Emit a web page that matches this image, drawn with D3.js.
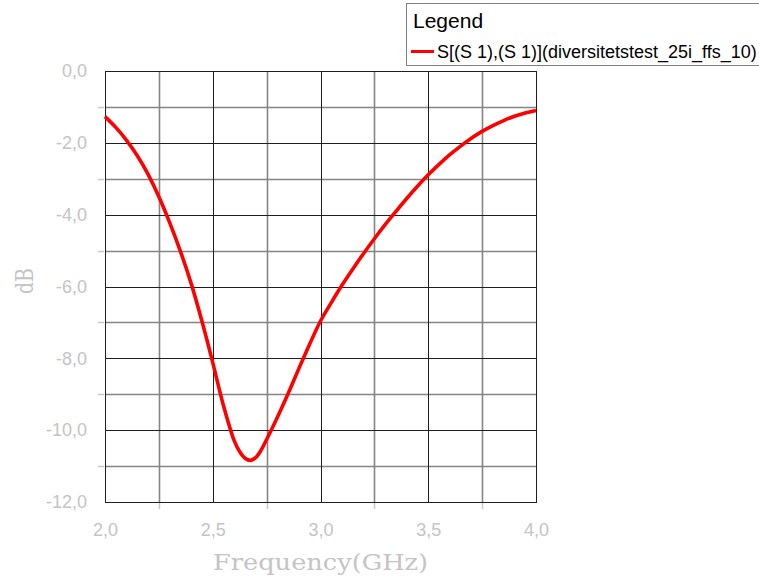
<!DOCTYPE html>
<html>
<head>
<meta charset="utf-8">
<script src="https://cdn.jsdelivr.net/npm/d3@7/dist/d3.min.js"></script>
<style>
  html, body { margin: 0; padding: 0; background: #fff; }
  svg { display: block; }
</style>
</head>
<body>
<svg id="chart" width="759" height="583"></svg>
<script>
// S11 sweep, 2–4 GHz
const freqGHz = [2.00, 2.05, 2.10, 2.15, 2.20, 2.25, 2.30, 2.35, 2.40, 2.45, 2.50, 2.55,
                 2.60, 2.625, 2.65, 2.675, 2.70, 2.725, 2.75, 2.80, 2.85, 2.90, 2.95, 3.00,
                 3.05, 3.10, 3.15, 3.20, 3.25, 3.30, 3.35, 3.40, 3.45, 3.50, 3.55, 3.60,
                 3.65, 3.70, 3.75, 3.80, 3.85, 3.90, 3.95, 4.00];
const s11dB   = [-1.27, -1.57, -1.93, -2.36, -2.88, -3.50, -4.22, -5.02, -5.92, -6.97, -8.12, -9.32,
                 -10.30, -10.60, -10.78, -10.84, -10.76, -10.55, -10.26, -9.64, -8.98, -8.28, -7.60, -6.96,
                 -6.45, -5.96, -5.51, -5.08, -4.67, -4.28, -3.91, -3.55, -3.21, -2.89, -2.60, -2.33,
                 -2.09, -1.87, -1.68, -1.52, -1.38, -1.26, -1.17, -1.10];

const xMajorTicks = [2.0, 2.5, 3.0, 3.5, 4.0];
const xMinorTicks = [2.25, 2.75, 3.25, 3.75];
const yMajorTicks = [0, -2, -4, -6, -8, -10, -12];
const yMinorTicks = [-1, -3, -5, -7, -9, -11];

const seriesName = "S[(S 1),(S 1)](diversitetstest_25i_ffs_10)";
const legendTitle = "Legend";
const xTitle = "Frequency(GHz)";
const yTitle = "dB";

const svg = d3.select("#chart");
const plot = { left: 105, right: 536, top: 71, bottom: 502 };

const x = d3.scaleLinear().domain([2, 4]).range([plot.left, plot.right]);
const y = d3.scaleLinear().domain([-12, 0]).range([plot.bottom, plot.top]);

const loc = d3.formatLocale({ decimal: ",", thousands: ".", grouping: [3], currency: ["", ""], minus: "-" });
const fmt = loc.format(".1f");

const labelColor = "#c4c4c4";
const titleColor = "#c4c4c4";
const gridDark = "#1e1e1e";
const gridLight = "#858585";

// minor grid (grey)
const g = svg.append("g");
g.selectAll("line.vmin").data(xMinorTicks).join("line")
  .attr("x1", d => Math.round(x(d)) + 0.5).attr("x2", d => Math.round(x(d)) + 0.5)
  .attr("y1", plot.top).attr("y2", plot.bottom)
  .attr("stroke", gridLight).attr("stroke-width", 1.6);
g.selectAll("line.hmin").data(yMinorTicks).join("line")
  .attr("y1", d => Math.round(y(d)) + 0.5).attr("y2", d => Math.round(y(d)) + 0.5)
  .attr("x1", plot.left).attr("x2", plot.right)
  .attr("stroke", gridLight).attr("stroke-width", 1.6);
// outside stubs of the minor ticks
g.selectAll("line.vt").data(xMinorTicks).join("line")
  .attr("x1", d => Math.round(x(d)) + 0.5).attr("x2", d => Math.round(x(d)) + 0.5)
  .attr("y1", plot.bottom + 1).attr("y2", plot.bottom + 7)
  .attr("stroke", "#c8c8c8").attr("stroke-width", 1.5);
g.selectAll("line.ht").data(yMinorTicks).join("line")
  .attr("y1", d => Math.round(y(d)) + 0.5).attr("y2", d => Math.round(y(d)) + 0.5)
  .attr("x1", plot.left - 7).attr("x2", plot.left - 1)
  .attr("stroke", "#c8c8c8").attr("stroke-width", 1.5);

// major grid (dark)
g.selectAll("line.vmaj").data(xMajorTicks).join("line")
  .attr("x1", d => Math.round(x(d)) + 0.5).attr("x2", d => Math.round(x(d)) + 0.5)
  .attr("y1", plot.top).attr("y2", plot.bottom)
  .attr("stroke", gridDark).attr("stroke-width", 1);
g.selectAll("line.hmaj").data(yMajorTicks).join("line")
  .attr("y1", d => Math.round(y(d)) + 0.5).attr("y2", d => Math.round(y(d)) + 0.5)
  .attr("x1", plot.left).attr("x2", plot.right)
  .attr("stroke", gridDark).attr("stroke-width", 1);

// plot frame
svg.append("rect")
  .attr("x", plot.left + 0.5).attr("y", plot.top + 0.5)
  .attr("width", plot.right - plot.left).attr("height", plot.bottom - plot.top)
  .attr("fill", "none").attr("stroke", gridDark).attr("stroke-width", 1);

// tick labels
const xAxis = d3.axisBottom(x).tickValues(xMajorTicks).tickFormat(fmt).tickSize(0).tickPadding(0);
const xa = svg.append("g").attr("transform", `translate(0,${plot.bottom + 21})`).call(xAxis);
const yAxis = d3.axisLeft(y).tickValues(yMajorTicks).tickFormat(fmt).tickSize(0).tickPadding(0);
const ya = svg.append("g").attr("transform", `translate(${plot.left - 18},0)`).call(yAxis);
[xa, ya].forEach(a => {
  a.select(".domain").remove();
  a.selectAll("text")
    .attr("fill", labelColor)
    .style("font-family", "Arial, 'Liberation Sans', sans-serif")
    .style("font-size", "18px");
});

// S11 curve
const line = d3.line()
  .x((d, i) => x(freqGHz[i]))
  .y(d => y(d))
  .curve(d3.curveCatmullRom.alpha(0.5));
svg.append("path")
  .datum(s11dB)
  .attr("d", line)
  .attr("fill", "none")
  .attr("stroke", "#ff0000")
  .attr("stroke-width", 3.6)
  .attr("stroke-linejoin", "round");

// axis titles
svg.append("text")
  .attr("x", (plot.left + plot.right) / 2).attr("y", 570)
  .attr("text-anchor", "middle")
  .attr("fill", titleColor)
  .attr("textLength", 215).attr("lengthAdjust", "spacingAndGlyphs")
  .style("font-family", "'DejaVu Serif', 'Liberation Serif', serif")
  .style("font-size", "23px")
  .text(xTitle);
svg.append("text")
  .attr("transform", `translate(33,281) rotate(-90)`)
  .attr("text-anchor", "middle")
  .attr("fill", titleColor)
  .attr("textLength", 26).attr("lengthAdjust", "spacingAndGlyphs")
  .style("font-family", "'DejaVu Serif', 'Liberation Serif', serif")
  .style("font-size", "25px")
  .text(yTitle);

// legend
const lg = svg.append("g");
lg.append("rect")
  .attr("x", 406.5).attr("y", 3.5).attr("width", 400).attr("height", 62)
  .attr("fill", "#fff").attr("stroke", "#808080").attr("stroke-width", 1);
lg.append("text")
  .attr("x", 413).attr("y", 28)
  .attr("fill", "#000")
  .style("font-family", "Arial, 'Liberation Sans', sans-serif")
  .style("font-size", "21px")
  .text(legendTitle);
lg.append("line")
  .attr("x1", 411).attr("x2", 434).attr("y1", 51.5).attr("y2", 51.5)
  .attr("stroke", "#ff0000").attr("stroke-width", 3);
lg.append("text")
  .attr("x", 437).attr("y", 58)
  .attr("fill", "#000")
  .style("font-family", "Arial, 'Liberation Sans', sans-serif")
  .style("font-size", "18px")
  .text(seriesName);
</script>
</body>
</html>
